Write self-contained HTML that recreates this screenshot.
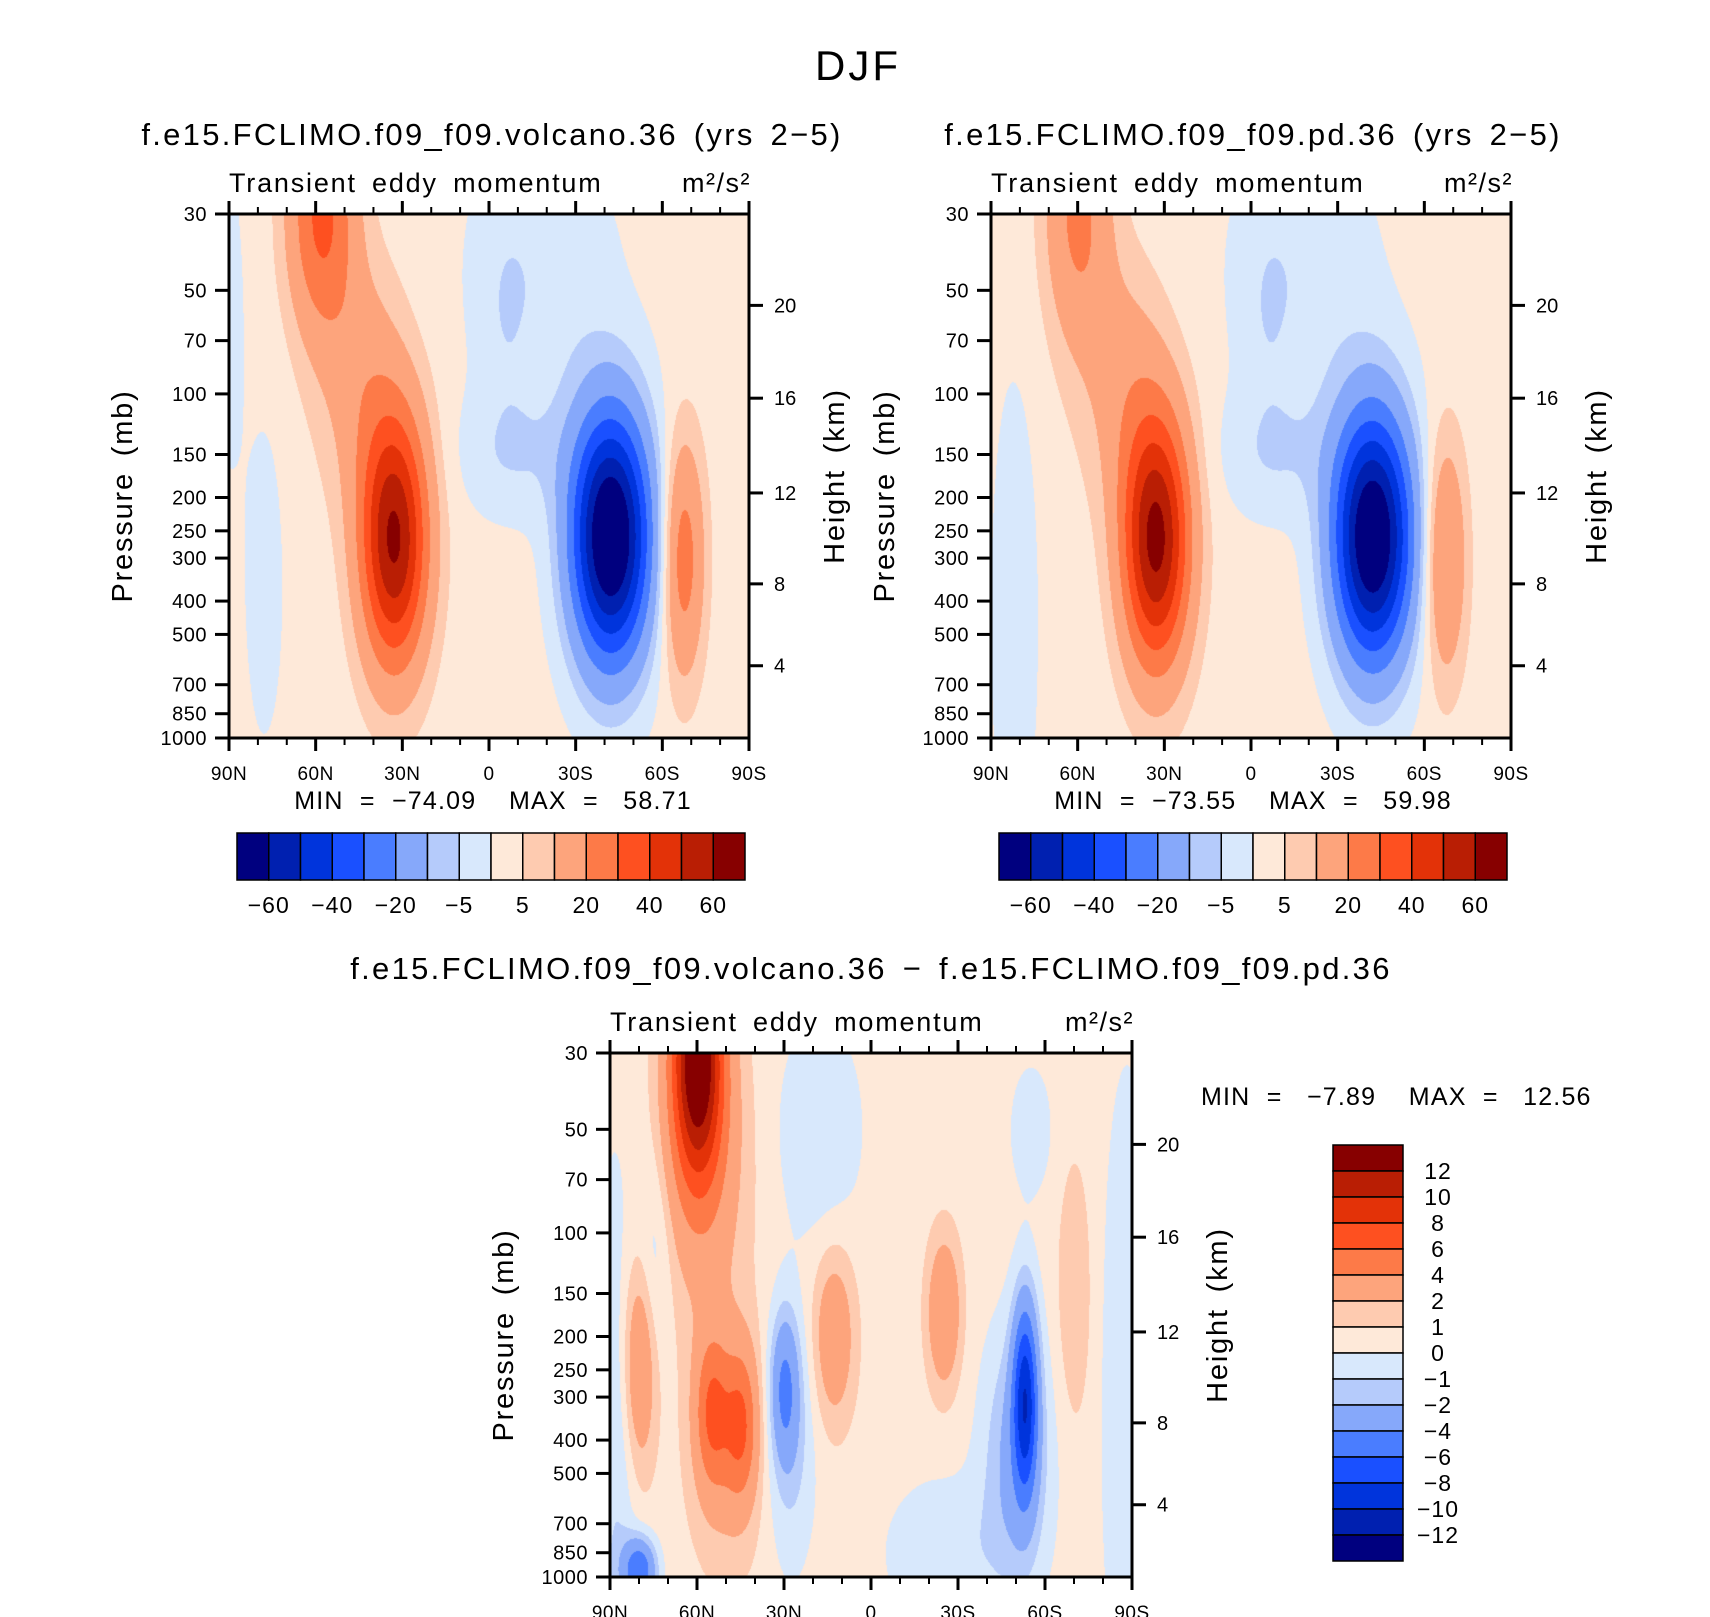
<!DOCTYPE html>
<html><head><meta charset="utf-8">
<style>
html,body{margin:0;padding:0;background:#fff;}
#root{position:relative;width:1710px;height:1617px;overflow:hidden;background:#fff;font-family:"Liberation Sans",sans-serif;}
canvas{position:absolute;}
svg{position:absolute;left:0;top:0;}
</style></head>
<body>
<div id="root">
<canvas id="c1"></canvas>
<canvas id="c2"></canvas>
<canvas id="c3"></canvas>
<svg id="svg" width="1710" height="1617"></svg>
</div>
<script>
// ---- data ----
const palette = ['#00007f','#0020b0','#0034dc','#1a50ff','#4a7dff','#86a8fa','#b5cbfb','#d8e8fc','#fee9d9','#fecbb0','#fda47c','#fd7a48','#fe5020','#e33208','#b91e04','#870000'];
const levelsMain = [-60,-50,-40,-30,-20,-10,-5,0,5,10,20,30,40,50,60];
const levelsDiff = [-12,-10,-8,-6,-4,-2,-1,0,1,2,4,6,8,10,12];
const mainBarLabels = ['−60','','−40','','−20','','−5','','5','','20','','40','','60'];
const diffBarLabels = ['−12','−10','−8','−6','−4','−2','−1','0','1','2','4','6','8','10','12'];
const pressureTicks = [30,50,70,100,150,200,250,300,400,500,700,850,1000];
const heightTicks = [4,8,12,16,20];
const heightTickPressure = [616.6,356.5,194.0,102.9,55.3];
const latTicks = [90,60,30,0,-30,-60,-90];
const latTickLabels = ['90N','60N','30N','0','30S','60S','90S'];
// blobs: [lat, pressure, amplitude, sigmaLat, sigmaLogP]
const base1 = 2;
const blobs1 = [
 [33,270,58,8,0.58],[-42,260,-78,9.5,0.58],[-67,300,24,5,0.55],
 [58,30,30,8,0.55],[45,75,9,10,0.5],[40,140,6,12,0.5],
 [-8,150,-6,14,0.3],[-18,45,-6,18,0.7],[78,350,-4.5,5,0.8],[-5,60,-3,6,0.5],[90,60,-4,4,0.8]
];
const base2 = 2;
const blobs2 = [
 [33,270,60,8,0.58],[-42,260,-76,9.5,0.58],[-67,300,20,5,0.55],
 [60,30,20,8,0.6],[45,75,8,10,0.5],[40,140,6,12,0.5],
 [-8,150,-6,14,0.3],[-18,45,-6,18,0.7],[82,450,-5,6,1.2],[-5,60,-3,6,0.5]
];
const base3 = 0.5;
const blobs3 = [
 [60,30,13,6,0.55],[58,60,3,10,0.7],[80,240,3.5,4,0.5],[55,330,4.5,4,0.35],
 [45,360,4.5,4,0.35],[50,400,2,9,0.6],[30,280,-4,3.5,0.35],[28,400,-1.8,6,0.6],
 [13,200,3,5,0.4],[-25,170,3.5,4,0.35],[-53,300,-8.5,3,0.45],[-50,450,-3,8,0.6],
 [-70,150,1.5,4,0.6],[80,950,-6,4,0.15],[-25,850,-1.4,14,0.35],[18,50,-1.5,10,0.5],
 [-55,50,-1.3,5,0.3],[88,500,-1.5,5,1.5],[-88,300,-1.5,6,1.5],[75,120,-1.5,4,0.5]
];
const panels = [
 {id:'c1',x0:229,y0:214,w:520,h:524,base:base1,blobs:blobs1,levels:levelsMain},
 {id:'c2',x0:991,y0:214,w:520,h:524,base:base2,blobs:blobs2,levels:levelsMain},
 {id:'c3',x0:610,y0:1053,w:522,h:524,base:base3,blobs:blobs3,levels:levelsDiff}
];
const U = Math.log(1000/30);
function xOf(P,lat){return P.x0+(90-lat)/180*P.w;}
function yOf(P,p){return P.y0+P.h-Math.log(1000/p)/U*P.h;}
function field(P,lat,u){let v=P.base;for(const b of P.blobs){const dl=(lat-b[0])/b[3],du=(u-Math.log(1000/b[1]))/b[4];v+=b[2]*Math.exp(-0.5*(dl*dl+du*du));}return v;}
function rgb(h){return [parseInt(h.slice(1,3),16),parseInt(h.slice(3,5),16),parseInt(h.slice(5,7),16)];}
const pal = palette.map(rgb);
for(const P of panels){
 const c=document.getElementById(P.id);
 c.width=P.w;c.height=P.h;c.style.left=P.x0+'px';c.style.top=P.y0+'px';
 const ctx=c.getContext('2d');const img=ctx.createImageData(P.w,P.h);
 for(let j=0;j<P.h;j++){const u=(P.h-j)/P.h*U;for(let i=0;i<P.w;i++){const lat=90-i/P.w*180;const v=field(P,lat,u);let k=0;while(k<P.levels.length&&v>=P.levels[k])k++;const col=pal[k];const o=(j*P.w+i)*4;img.data[o]=col[0];img.data[o+1]=col[1];img.data[o+2]=col[2];img.data[o+3]=255;}}
 ctx.putImageData(img,0,0);
}
const svg=document.getElementById('svg');const NS='http://www.w3.org/2000/svg';
function el(tag,attrs){const e=document.createElementNS(NS,tag);for(const k in attrs)e.setAttribute(k,attrs[k]);svg.appendChild(e);return e;}
function txt(x,y,s,size,anchor,extra){const t=el('text',Object.assign({x:x,y:y,'font-size':size,'text-anchor':anchor||'start','font-family':'Liberation Sans, sans-serif',fill:'#000'},extra||{}));t.textContent=s;return t;}
function line(x1,y1,x2,y2,w){return el('line',{x1:x1,y1:y1,x2:x2,y2:y2,stroke:'#000','stroke-width':w||2});}

let t=txt(858,80,'DJF',42,'middle',{'letter-spacing':'3'});



const titles=[['f.e15.FCLIMO.f09_f09.volcano.36 (yrs 2−5)',492,145],['f.e15.FCLIMO.f09_f09.pd.36 (yrs 2−5)',1253,145],['f.e15.FCLIMO.f09_f09.volcano.36 − f.e15.FCLIMO.f09_f09.pd.36',871,979]];
const minmax=[['MIN  =  −74.09    MAX  =   58.71',493,809,'middle'],['MIN  =  −73.55    MAX  =   59.98',1253,809,'middle'],['MIN  =   −7.89    MAX  =   12.56',1201,1105,'start']];
panels.forEach((P,n)=>{
 t=txt(titles[n][1],titles[n][2],titles[n][0],31,'middle',{'letter-spacing':'2.3','word-spacing':'5'});
 
 
 t=txt(P.x0,P.y0-22,'Transient eddy momentum',27,'start',{'word-spacing':'6','letter-spacing':'1.8'});
 
 
 t=txt(P.x0+P.w+2,P.y0-22,'m²/s²',27,'end',{'letter-spacing':'1.5'});
 
 
 const r=el('rect',{x:P.x0,y:P.y0,width:P.w,height:P.h,fill:'none',stroke:'#000','stroke-width':3});
 
 
 pressureTicks.forEach(p=>{const y=yOf(P,p);
  let l=line(P.x0-14,y,P.x0,y,3);
  
  
  let tt=txt(P.x0-22,y+7,String(p),20,'end',{'letter-spacing':'0.5'});
  
  });
 heightTicks.forEach((z,i)=>{const y=yOf(P,heightTickPressure[i]);
  let l=line(P.x0+P.w,y,P.x0+P.w+14,y,3);
  
  
  let tt=txt(P.x0+P.w+25,y+7,String(z),20,'start');
  
  });
 for(let lat=90;lat>=-90;lat-=10){const x=xOf(P,lat);const maj=lat%30===0;
  let l=line(x,P.y0+P.h,x,P.y0+P.h+(maj?13:7),maj?3:2);
  
  
  l=line(x,P.y0,x,P.y0-(maj?13:7),maj?3:2);
  
  }
 latTicks.forEach((lat,i)=>{let tt=txt(xOf(P,lat),P.y0+P.h+42,latTickLabels[i],19,'middle',{'letter-spacing':'0.5'});
  
  });
 const cy=P.y0+P.h/2;
 t=txt(0,0,'Pressure (mb)',29,'middle',{transform:`translate(${P.x0-97},${cy+20}) rotate(-90)`,'word-spacing':'6','letter-spacing':'1.8'});
 
 
 t=txt(0,0,'Height (km)',29,'middle',{transform:`translate(${P.x0+P.w+95},${cy}) rotate(-90)`,'word-spacing':'6','letter-spacing':'1.8'});
 
 
 t=txt(minmax[n][1],minmax[n][2],minmax[n][0],25,minmax[n][3],{style:'white-space:pre','letter-spacing':'1.2'});
 
 
});
// horizontal colorbars
[237,999].forEach(x0=>{const y0=833,w=508,h=47,bw=w/16;
 palette.forEach((c,i)=>{const r=el('rect',{x:x0+i*bw,y:y0,width:bw,height:h,fill:c,stroke:'#000','stroke-width':1.5});
  
  });
 mainBarLabels.forEach((s,i)=>{if(!s)return;let tt=txt(x0+(i+1)*bw,913,s,23,'middle',{'letter-spacing':'1'});
  
  });
});
// vertical colorbar
{const x0=1333,y0=1145,w=70,bh=26;
 palette.slice().reverse().forEach((c,i)=>{const r=el('rect',{x:x0,y:y0+i*bh,width:w,height:bh,fill:c,stroke:'#000','stroke-width':1.5});
  
  });
 diffBarLabels.slice().reverse().forEach((s,i)=>{let tt=txt(1438,y0+(i+1)*bh+8,s,23,'middle',{'letter-spacing':'1'});
  
  });
}
</script>
</body></html>
